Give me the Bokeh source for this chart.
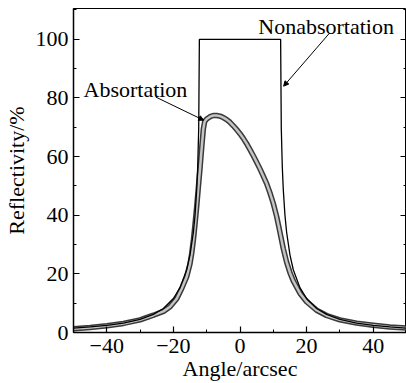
from bokeh.plotting import figure
from bokeh.models import Range1d, LinearAxis, Label, Arrow, NormalHead, FixedTicker, ColumnDataSource
from bokeh.embed import file_html
from bokeh.resources import INLINE

# Absorbing crystal reflectivity curve
abs_angle = [-50, -45, -40, -35, -30, -26, -23, -21, -19, -17.5, -16, -15, -14.5, -14, -13.5, -13,
             -12.5, -12, -11.5, -11, -10.6, -10, -9, -8, -7, -6, -5, -4, -3, -2, -1, 0, 1, 2, 3,
             4, 5, 6, 7, 8, 9, 10, 11, 12, 13, 14, 15, 16, 18, 20, 23, 26, 30, 35, 40, 45, 50]
abs_refl = [1.3, 1.7, 2.3, 3.1, 4.3, 5.9, 7.2, 8.8, 11.5, 15.0, 19.0, 23.5, 27.0, 31.5, 37.0, 43.0,
            49.5, 56.0, 63.0, 69.5, 72.0, 72.8, 73.6, 74.0, 74.0, 73.8, 73.3, 72.6, 71.7, 70.5, 69.2,
            67.8, 66.2, 64.4, 62.4, 60.3, 58.1, 55.8, 53.3, 50.8, 47.6, 44.0, 39.6, 34.2, 28.6, 24.0,
            20.4, 17.6, 13.4, 10.5, 7.6, 5.8, 4.3, 3.2, 2.5, 1.9, 1.5]

# Non-absorbing crystal reflectivity curve
non_angle = [-50, -45, -40, -35, -30, -26, -23, -20, -18, -16, -15, -14, -13.5, -13, -12.7, -12.4,
             -12.2, 12.2, 12.4, 12.7, 13, 13.5, 14, 15, 16, 18, 20, 23, 26, 30, 35, 40, 45, 50]
non_refl = [1.5, 1.9, 2.4, 3.2, 4.5, 6.2, 8.2, 11.6, 15.3, 21.4, 26.5, 34.2, 40.0, 48.7, 56.5, 69.6,
            100, 100, 69.6, 56.5, 48.7, 40.0, 34.2, 26.5, 21.4, 15.3, 11.6, 8.2, 6.2, 4.5, 3.2, 2.4,
            1.9, 1.5]

x_ticks = [-40, -20, 0, 20, 40]
x_tick_labels = ["\u221240", "\u221220", "0", "20", "40"]
y_ticks = [0, 20, 40, 60, 80, 100]
y_tick_labels = ["0", "20", "40", "60", "80", "100"]

FONT = "Liberation Serif"
FS = "22px"

p = figure(width=406, height=383, output_backend="svg", toolbar_location=None,
           x_range=Range1d(-50, 50), y_range=Range1d(0, 110.5),
           min_border_left=70, min_border_right=0, min_border_top=8, min_border_bottom=50,
           x_axis_label="Angle/arcsec", y_axis_label="Reflectivity/%")
p.grid.visible = False
p.outline_line_color = "black"
p.outline_line_width = 1
p.background_fill_color = "white"
p.border_fill_color = "white"

abs_src = ColumnDataSource(dict(x=abs_angle, y=abs_refl))
non_src = ColumnDataSource(dict(x=non_angle, y=non_refl))

p.line("x", "y", source=abs_src, line_color="#3a3a3a", line_width=5.5, line_join="round")
p.line("x", "y", source=abs_src, line_color="#c4c4c4", line_width=2.5, line_join="round")
p.line("x", "y", source=non_src, line_color="black", line_width=1.3)

def style_axis(ax, ticks, labels, show_labels=True):
    step = ticks[1] - ticks[0]
    ax.ticker = FixedTicker(ticks=ticks, minor_ticks=[t + step / 2 for t in [ticks[0] - step] + ticks])
    ax.major_tick_in = 6
    ax.major_tick_out = 0
    ax.minor_tick_in = 3
    ax.minor_tick_out = 0
    ax.axis_line_width = 1.5
    ax.axis_line_color = "black"
    ax.major_tick_line_color = "black"
    ax.minor_tick_line_color = "black"
    ax.major_tick_line_width = 1.2
    if show_labels:
        ax.major_label_overrides = {t: l for t, l in zip(ticks, labels)}
        ax.major_label_text_font = FONT
        ax.major_label_text_font_size = FS
        ax.major_label_text_color = "black"
        ax.axis_label_text_font = FONT
        ax.axis_label_text_font_size = FS
        ax.axis_label_text_font_style = "normal"
        ax.axis_label_text_color = "black"
    else:
        ax.major_label_overrides = {t: "" for t in ticks}
        ax.major_label_standoff = 0

style_axis(p.xaxis[0], x_ticks, x_tick_labels)
style_axis(p.yaxis[0], y_ticks, y_tick_labels)
p.xaxis[0].major_label_standoff = 6
p.xaxis[0].axis_label_standoff = 0
p.yaxis[0].major_label_standoff = 5
p.yaxis[0].axis_label_standoff = 4

right = LinearAxis()
style_axis(right, y_ticks, y_tick_labels, show_labels=False)
p.add_layout(right, "right")

# annotations
p.add_layout(Label(x=-47, y=83, text="Absortation", text_font=FONT, text_font_size=FS,
                   text_color="black", text_baseline="alphabetic"))
p.add_layout(Label(x=5.5, y=104.5, text="Nonabsortation", text_font=FONT, text_font_size=FS,
                   text_color="black", text_baseline="alphabetic"))
p.add_layout(Arrow(x_start=-25.3, y_start=80.3, x_end=-10.9, y_end=72.4, line_width=1,
                   end=NormalHead(size=5, line_width=1, fill_color="black")))
p.add_layout(Arrow(x_start=26.8, y_start=102, x_end=13.1, y_end=84, line_width=1,
                   end=NormalHead(size=5, line_width=1, fill_color="black")))

open("out.html", "w").write(file_html(p, INLINE))
